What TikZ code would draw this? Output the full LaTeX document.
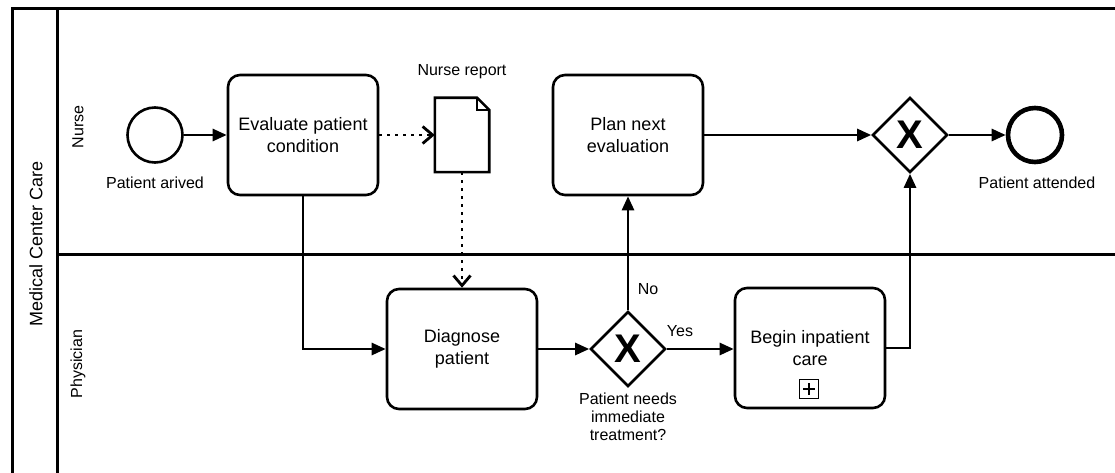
\documentclass[tikz,border=0pt]{standalone}
\usepackage{fontspec}
\setmainfont{Liberation Sans}
\usetikzlibrary{arrows.meta,shapes.geometric,calc}

\begin{document}
\begin{tikzpicture}[x=1pt,y=-1pt,
  task/.style={draw, line width=2.6pt, rounded corners=12pt, minimum width=150pt,
    minimum height=120pt, align=center, inner sep=0pt,
    font=\fontsize{18}{22}\selectfont},
  startevent/.style={circle, draw, line width=2.6pt, minimum size=55pt, inner sep=0pt},
  endevent/.style={circle, draw, line width=4.6pt, minimum size=54pt, inner sep=0pt},
  gateway/.style={diamond, draw, line width=2.6pt, minimum width=75pt,
    minimum height=75pt, inner sep=0pt, font=\fontsize{40}{40}\selectfont\bfseries},
  docnode/.style={minimum width=54pt, minimum height=74pt, inner sep=0pt},
  lbl/.style={align=center, inner sep=0pt, font=\fontsize{16}{18}\selectfont},
  lanelbl/.style={rotate=90, inner sep=0pt},
  poolline/.style={line width=3pt},
  flow/.style={line width=2.6pt, -{Triangle[length=14pt,width=12pt]}},
  assoc/.style={line width=2.8pt, dash pattern=on 2.5pt off 5.5pt,
    -{Straight Barb[length=10pt,width=17pt]}}
]
\useasboundingbox (0,0) rectangle (1115,473);
\clip (0,0) rectangle (1115,473);

% pool and lanes
\draw[poolline] (12,9) rectangle (1200,600);
\draw[poolline] (57,9) -- (57,600);
\draw[poolline] (57,254) -- (1200,254);
\node[lanelbl, font=\fontsize{18}{20}\selectfont] (pool) at (36,244) {Medical Center Care};
\node[lanelbl, font=\fontsize{16}{18}\selectfont] (nurse) at (78,127) {Nurse};
\node[lanelbl, font=\fontsize{16}{18}\selectfont] (physician) at (78,364) {Physician};

% nurse lane
\node[startevent] (start) at (155,135) {};
\node[lbl] (startlbl) at (155,183) {Patient arived};
\node[task] (eval) at (303,135) {Evaluate patient\\condition};
\node[docnode] (report) at (462,135) {};
\draw[line width=2.6pt, line join=miter]
  (report.north west) -- ($(report.north east)+(-12,0)$)
  -- ($(report.north east)+(0,12)$) -- (report.south east)
  -- (report.south west) -- cycle;
\draw[line width=1.6pt]
  ($(report.north east)+(-12,0)$) -- ($(report.north east)+(-12,12)$)
  -- ($(report.north east)+(0,12)$);
\node[lbl] (reportlbl) at (462,72) {Nurse report};
\node[task] (plan) at (628,135) {Plan next\\evaluation};
\node[gateway] (merge) at (910,135) {X};
\node[endevent] (end) at (1035,135) {};
\node[lbl] (endlbl) at (1037,183) {Patient attended};

% physician lane
\node[task] (diag) at (462,349) {Diagnose\\patient};
\node[gateway] (decide) at (628,349) {X};
\node[lbl] (decidelbl) at (628,417) {Patient needs\\immediate\\treatment?};
\node[task] (begin) at (810,348) {Begin inpatient\\care};
\node[draw, line width=1.8pt, minimum size=19pt, inner sep=0pt] (marker) at (809,389) {};
\draw[line width=2.8pt] ($(marker.center)+(-6,0)$) -- ($(marker.center)+(6,0)$);
\draw[line width=2.8pt] ($(marker.center)+(0,-6)$) -- ($(marker.center)+(0,6)$);

% sequence flows
\draw[flow] (start) -- (eval);
\draw[flow] (eval.south) |- (diag.west);
\draw[flow] (diag.east |- decide.west) -- (decide.west);
\draw[flow] (decide.east) -- (begin.west |- decide.east);
\node[lbl] (yes) at (680,331) {Yes};
\draw[flow] (decide.north) -- (plan.south);
\node[lbl] (no) at (648,289) {No};
\draw[flow] (plan.east) -- (merge.west);
\draw[flow] (begin.east) -| (merge.south);
\draw[flow] (merge.east) -- (end.west);

% data associations
\draw[assoc] (eval.east) -- (report.west);
\draw[assoc] (report.south) -- (diag.north);
\end{tikzpicture}
\end{document}
